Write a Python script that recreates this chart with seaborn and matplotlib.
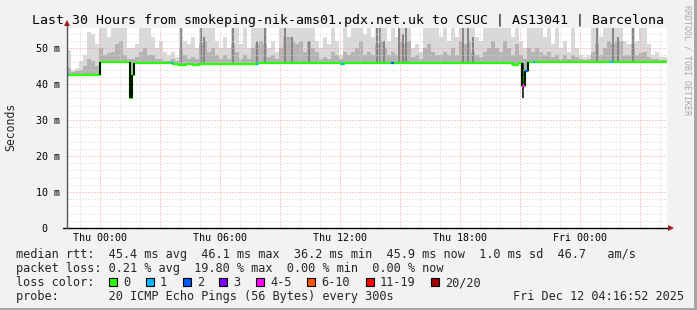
import numpy as np
import pandas as pd
import matplotlib
matplotlib.use("Agg")
import matplotlib.pyplot as plt
import seaborn as sns
from matplotlib.patches import Rectangle
from matplotlib.lines import Line2D

# ---------------- data ----------------
x_tick_hours = [0, 3, 6, 9, 12, 15, 18, 21, 24, 27]
x_tick_labels = ["Thu 00:00", "", "Thu 06:00", "", "Thu 12:00", "", "Thu 18:00", "", "Fri 00:00", ""]
y_tick_values = [0, 10, 20, 30, 40, 50]
y_tick_labels = ["0  ", "10 m", "20 m", "30 m", "40 m", "50 m"]

# median rtt (ms) as steps: start hour (relative to Thu 00:00), value, loss class index
med_t = [-1.65, -1.55, -0.025, 1.5, 1.6, 1.675, 3.55, 3.65, 3.9, 4.3, 4.65, 4.95, 7.8, 7.9,
         12.05, 12.2, 14.55, 14.7, 20.65, 20.9, 21.1, 21.25, 21.4, 21.65, 21.75, 25.5, 25.65]
med_v = [42.5, 42.5, 46.0, 36.2, 42.6, 45.7, 45.7, 45.6, 45.4, 45.6, 45.4, 45.6, 45.6, 45.7,
         45.6, 45.7, 45.7, 45.8, 45.3, 45.8, 39.4, 43.7, 46.0, 46.0, 46.0, 46.0, 46.0]
med_loss = [1, 0, 0, 0, 0, 0, 1, 0, 0, 0, 0, 0, 1, 0,
            1, 0, 2, 0, 0, 0, 4, 2, 0, 1, 0, 1, 0]
t_end = 28.35

loss_labels = ["0", "1", "2", "3", "4-5", "6-10", "11-19", "20/20"]
loss_colors = ["#26ff00", "#00b8ff", "#0059ff", "#7e00ff", "#ff00ff", "#ff5500", "#ff0000", "#a10000"]

# smoke: 150 bins of 0.2 h starting at -1.65 h
smoke_hi = [
    49.4, 44.0, 44.5, 46.5, 48.0, 54.5, 54.0, 51.0, 55.7, 55.7,
    53.0, 55.7, 55.7, 55.7, 55.7, 50.0, 50.0, 51.0, 55.7, 55.7,
    55.7, 53.0, 50.0, 52.0, 49.0, 48.0, 49.0, 47.5, 55.7, 52.0,
    51.0, 53.0, 50.0, 55.7, 55.7, 55.7, 55.7, 52.0, 50.0, 53.0,
    50.0, 55.7, 55.7, 51.0, 55.7, 50.0, 55.7, 55.7, 55.7, 55.7,
    50.0, 52.0, 49.0, 55.7, 55.7, 55.7, 55.7, 55.7, 55.7, 55.7,
    55.7, 55.7, 52.0, 50.0, 53.0, 51.0, 55.7, 52.0, 48.0, 55.7,
    53.0, 55.7, 55.7, 55.7, 54.0, 55.7, 53.0, 55.7, 55.7, 55.7,
    52.0, 55.7, 53.0, 55.7, 55.7, 55.7, 50.0, 51.0, 49.0, 55.7,
    55.7, 55.7, 55.7, 53.0, 55.7, 52.0, 55.7, 53.0, 55.7, 55.7,
    55.7, 55.7, 53.0, 52.0, 55.7, 55.7, 55.7, 55.7, 55.7, 55.7,
    55.7, 53.0, 55.7, 52.0, 50.0, 55.7, 55.7, 55.7, 55.7, 53.0,
    55.7, 51.0, 55.7, 50.0, 52.0, 49.0, 55.7, 50.0, 48.0, 47.5,
    48.0, 55.7, 55.7, 53.0, 55.7, 55.7, 55.7, 55.7, 55.7, 52.0,
    51.0, 55.7, 52.0, 55.7, 55.7, 51.0, 48.0, 49.0, 47.5, 47.5,
]
smoke_mid = [
    44.5, 43.2, 43.5, 44.0, 45.0, 47.0, 46.5, 45.0, 50.0, 48.0,
    48.5, 49.0, 51.0, 52.0, 48.0, 47.0, 47.0, 47.5, 49.0, 50.0,
    48.0, 48.0, 47.0, 47.0, 46.5, 46.5, 47.0, 46.5, 50.0, 48.0,
    47.0, 47.5, 47.0, 51.0, 52.0, 49.0, 50.0, 48.0, 47.0, 48.0,
    47.0, 51.0, 49.0, 47.0, 48.0, 47.0, 50.0, 51.0, 52.0, 51.0,
    47.5, 48.0, 47.0, 50.0, 53.0, 53.0, 52.0, 51.0, 52.0, 49.0,
    52.0, 50.0, 49.0, 47.0, 47.5, 47.0, 49.0, 48.0, 47.0, 49.0,
    48.0, 49.0, 50.0, 52.0, 48.0, 49.0, 48.0, 51.0, 52.0, 50.0,
    48.0, 49.0, 48.0, 52.0, 51.0, 52.0, 47.5, 48.0, 47.0, 50.0,
    51.0, 49.0, 48.0, 48.0, 49.0, 48.0, 50.0, 48.0, 52.0, 51.0,
    52.0, 49.0, 48.0, 47.5, 49.0, 50.0, 52.0, 50.0, 49.0, 52.0,
    50.0, 48.0, 51.0, 48.0, 47.0, 50.0, 49.0, 50.0, 49.0, 48.0,
    49.0, 47.5, 48.0, 47.0, 48.0, 47.0, 48.0, 47.5, 47.0, 46.8,
    47.0, 49.0, 51.0, 48.0, 50.0, 52.0, 51.0, 52.0, 52.0, 48.0,
    48.0, 51.0, 48.0, 48.5, 49.0, 47.5, 47.0, 47.0, 46.8, 46.8,
]
spike_t = [4.05, 5.05, 5.2, 6.65, 7.85, 8.25, 9.25, 9.6, 10.45, 13.85, 14.0, 14.2,
           14.95, 15.15, 15.3, 18.15, 18.4, 18.65, 24.85, 25.65, 25.9, 26.65]
spike_top = [55.7, 55.7, 53.0, 55.7, 52.0, 55.7, 55.7, 53.0, 52.0, 55.7, 55.7, 52.0,
             55.7, 54.0, 55.7, 55.7, 55.7, 53.0, 55.7, 55.7, 53.0, 55.7]
dip_t = [21.1]
dip_lo = [36.0]

legend_line1 = "median rtt:  45.4 ms avg  46.1 ms max  36.2 ms min  45.9 ms now  1.0 ms sd  46.7   am/s"
legend_line2 = "packet loss: 0.21 % avg  19.80 % max  0.00 % min  0.00 % now"
legend_line3 = "loss color:"
legend_line4 = "probe:       20 ICMP Echo Pings (56 Bytes) every 300s"
timestamp = "Fri Dec 12 04:16:52 2025"
title = "Last 30 Hours from smokeping-nik-ams01.pdx.net.uk to CSUC | AS13041 | Barcelona"

# ---------------- style ----------------
sns.set_style("white")
MONO = ["DejaVu Sans Mono"]
plt.rcParams["font.family"] = MONO
plt.rcParams["lines.scale_dashes"] = False

W, H = 697, 310
BG = "#f2f2f2"
fig = plt.figure(figsize=(W / 100, H / 100), dpi=100, facecolor=BG)

def fx(px):
    return px / W

def fy(py):
    return 1 - py / H

ax_l, ax_r, ax_t, ax_b = 67, 667, 27.5, 228
ax = fig.add_axes([fx(ax_l), fy(ax_b), (ax_r - ax_l) / W, (ax_b - ax_t) / H])
ax.set_facecolor("white")
YMAX = 55.7
ax.set_xlim(-1.65, t_end)
ax.set_ylim(0, YMAX)

med_t_arr = np.array(med_t)
med_v_arr = np.array(med_v)

def median_at(t):
    idx = np.searchsorted(med_t_arr, t, side="right") - 1
    idx = np.clip(idx, 0, len(med_t_arr) - 1)
    return med_v_arr[idx]

# smoke
n = len(smoke_hi)
bin_start = -1.65 + 0.2 * np.arange(n)
bottom = median_at(bin_start + 0.1)
hi = np.array(smoke_hi)
mid = np.array(smoke_mid)
ax.bar(bin_start, hi - bottom, bottom=bottom, width=0.2, align="edge",
       color="#d9d9d9", linewidth=0, zorder=1)
ax.bar(bin_start, np.maximum(mid - bottom, 0), bottom=bottom, width=0.2, align="edge",
       color="#b3b3b3", linewidth=0, zorder=1.1)
sp_b = median_at(np.array(spike_t))
ax.bar(spike_t, np.array(spike_top) - sp_b, bottom=sp_b, width=0.08, align="center",
       color="#858585", linewidth=0, zorder=1.2)
dp_hi = median_at(np.array(dip_t) - 0.01)
ax.bar(dip_t, dp_hi - np.array(dip_lo), bottom=dip_lo, width=0.1, align="edge",
       color="#3a3a3a", linewidth=0, zorder=1.3)

# grid (drawn above smoke)
ax.set_axisbelow(False)
ax.xaxis.set_major_locator(matplotlib.ticker.FixedLocator(x_tick_hours))
ax.xaxis.set_minor_locator(matplotlib.ticker.MultipleLocator(1))
ax.yaxis.set_major_locator(matplotlib.ticker.FixedLocator(y_tick_values))
ax.yaxis.set_minor_locator(matplotlib.ticker.MultipleLocator(2))
ax.grid(which="minor", color="#d2d2d2", linestyle=(0, (0.72, 1.44)), linewidth=0.72, zorder=2)
ax.grid(which="major", color="#ff9a9a", linestyle=(0, (0.72, 1.44)), linewidth=0.72, zorder=2.1)
ax.set_xticklabels(x_tick_labels)
ax.set_yticklabels(y_tick_labels)
ax.tick_params(axis="both", which="major", length=2.2, width=0.72, color="#ff9a9a",
               labelsize=7.2, labelcolor="black")
ax.tick_params(axis="x", which="major", pad=1.6)
ax.tick_params(axis="y", which="major", pad=2.9)
ax.tick_params(axis="both", which="minor", length=1.5, width=0.72, color="#d2d2d2")
for s in ax.spines.values():
    s.set_visible(False)

# median line
step_t = list(med_t) + [t_end]
step_v = list(med_v) + [med_v[-1]]
df = pd.DataFrame({"t": step_t, "v": step_v})
sns.lineplot(data=df, x="t", y="v", ax=ax, estimator=None, sort=False,
             drawstyle="steps-post", color=loss_colors[0], linewidth=1.6, zorder=3)
ends = step_t[1:]
for t0, t1, v, lc in zip(med_t, ends, med_v, med_loss):
    if lc > 0:
        ax.hlines(v, t0, t1, color=loss_colors[lc], linewidth=1.6, zorder=3.2)
for i in range(1, len(med_v)):
    if abs(med_v[i] - med_v[i - 1]) > 1.0:
        ax.vlines(med_t[i], min(med_v[i], med_v[i - 1]), max(med_v[i], med_v[i - 1]),
                  color="black", linewidth=1.3, zorder=3.1)

ax.set_xlabel("")
ax.set_ylabel("")

# axes lines with arrows
ax.add_line(Line2D([-0.007, 1.004], [0, 0], transform=ax.transAxes, color="black",
                   linewidth=1.0, clip_on=False, zorder=5))
ax.add_line(Line2D([0, 0], [0, 1.02], transform=ax.transAxes, color="#555555",
                   linewidth=1.0, clip_on=False, zorder=5))
ax.plot([1.007], [0], marker=">", markersize=4.5, color="#9b1c1c", transform=ax.transAxes,
        clip_on=False, zorder=6, markeredgewidth=0)
ax.plot([0], [1.022], marker="^", markersize=4.5, color="#9b1c1c", transform=ax.transAxes,
        clip_on=False, zorder=6, markeredgewidth=0)

# texts
fig.text(fx(348), fy(24), title, ha="center", va="baseline", fontsize=9.5, color="black")
fig.text(fx(11), fy(127), "Seconds", rotation=90, ha="center", va="center", fontsize=8.3)
fig.text(fx(687), fy(60), "RRDTOOL / TOBI OETIKER", rotation=270, ha="center", va="center",
         fontsize=6.0, color="#a9a9a9")

LS = 8.55
fig.text(fx(16), fy(258), legend_line1, ha="left", va="baseline", fontsize=LS)
fig.text(fx(16), fy(272), legend_line2, ha="left", va="baseline", fontsize=LS)
fig.text(fx(16), fy(286), legend_line3, ha="left", va="baseline", fontsize=LS)
fig.text(fx(16), fy(300), legend_line4, ha="left", va="baseline", fontsize=LS)
fig.text(fx(513), fy(300), timestamp, ha="left", va="baseline", fontsize=LS)

sq_x = [109, 146, 183, 219, 256, 307, 366, 431]
for px, c, lab in zip(sq_x, loss_colors, loss_labels):
    fig.patches.append(Rectangle((fx(px), fy(286)), 8 / W, 8 / H, transform=fig.transFigure,
                                 facecolor=c, edgecolor="black", linewidth=0.8, zorder=5))
    fig.text(fx(px + 14), fy(286), lab, ha="left", va="baseline", fontsize=LS)

# frame shadow
fig.patches.append(Rectangle((0, 0), 1, 2 / H, transform=fig.transFigure,
                             facecolor="#a6a6a6", edgecolor="none", zorder=0))
fig.patches.append(Rectangle((1 - 3 / W, 0), 3 / W, 1, transform=fig.transFigure,
                             facecolor="#a6a6a6", edgecolor="none", zorder=0))

fig.savefig("out.png", dpi=100, facecolor=BG)
